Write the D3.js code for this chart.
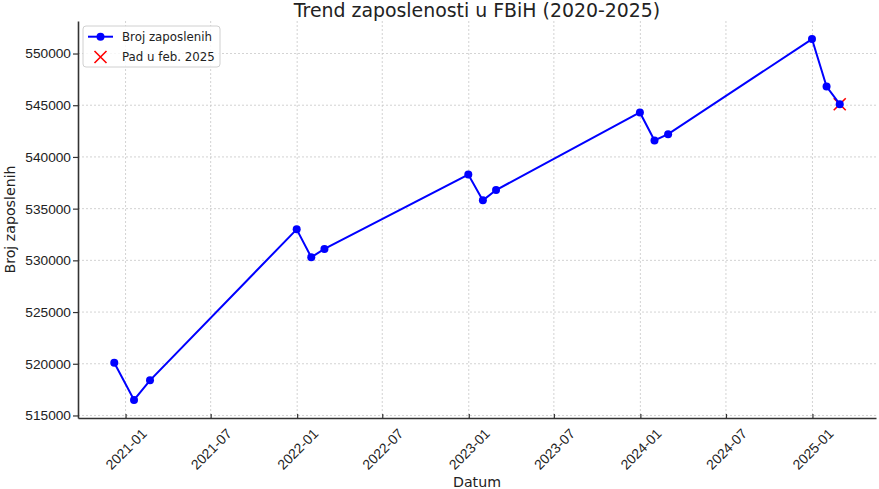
<!DOCTYPE html>
<html>
<head>
<meta charset="utf-8">
<script src="https://cdn.jsdelivr.net/npm/d3@7"></script>
<style>
  html, body { margin: 0; padding: 0; background: #fff; }
  svg { display: block; font-family: "DejaVu Sans", sans-serif; }
</style>
</head>
<body>
<svg id="chart" width="879" height="489"></svg>
<script>
// ---- data ----
const dates = ["2020-12-08","2021-01-19","2021-02-22","2021-12-31","2022-01-31","2022-02-28",
               "2022-12-31","2023-01-31","2023-02-28","2023-12-31","2024-01-31","2024-02-29",
               "2024-12-31","2025-01-31","2025-02-28"];
const employed = [520100, 516500, 518400, 533000, 530300, 531100, 538300, 535800, 536800,
                  544300, 541600, 542200, 551400, 546800, 545100];
const dropDate = ["2025-02-28"];
const dropValue = [545100];
const yTicks = [515000, 520000, 525000, 530000, 535000, 540000, 545000, 550000];
const titleText = "Trend zaposlenosti u FBiH (2020-2025)";
const xLabel = "Datum";
const yLabel = "Broj zaposlenih";
const legendLabels = ["Broj zaposlenih", "Pad u feb. 2025"];

// ---- layout ----
const W = 879, H = 489;
const L = 78, R = 876, T = 21, B = 418;
const parse = d3.timeParse("%Y-%m-%d");
const data = dates.map((d, i) => ({ date: parse(d), v: employed[i] }));
const drop = dropDate.map((d, i) => ({ date: parse(d), v: dropValue[i] }));

const svg = d3.select("#chart");

const xExt = d3.extent(data, d => d.date);
const xSpan = xExt[1] - xExt[0];
const x = d3.scaleTime()
  .domain([new Date(+xExt[0] - 0.05 * xSpan), new Date(+xExt[1] + 0.05 * xSpan)])
  .range([L, R]);
const yExt = d3.extent(data, d => d.v);
const ySpan = yExt[1] - yExt[0];
const y = d3.scaleLinear()
  .domain([yExt[0] - 0.05 * ySpan, yExt[1] + 0.05 * ySpan])
  .range([B, T]);

const xTicks = x.ticks(d3.timeMonth.every(6));
const fmt = d3.timeFormat("%Y-%m");

// grid
const grid = svg.append("g");
grid.selectAll(".gx").data(xTicks).enter().append("line")
  .attr("x1", d => x(d)).attr("x2", d => x(d)).attr("y1", T).attr("y2", B)
  .attr("stroke", "#c8c8c8").attr("stroke-width", 0.8).attr("stroke-dasharray", "2,2");
grid.selectAll(".gy").data(yTicks).enter().append("line")
  .attr("x1", L).attr("x2", R).attr("y1", d => y(d)).attr("y2", d => y(d))
  .attr("stroke", "#c8c8c8").attr("stroke-width", 0.8).attr("stroke-dasharray", "2,2");

// axes
const xAxis = d3.axisBottom(x).tickValues(xTicks).tickFormat(fmt).tickSizeInner(-4).tickSizeOuter(0);
const gx = svg.append("g").attr("transform", `translate(0,${B})`).call(xAxis);
gx.select(".domain").attr("stroke", "#333").attr("stroke-width", 1.6);
gx.selectAll(".tick line").attr("stroke", "#333").attr("stroke-width", 1.2);
gx.selectAll(".tick text")
  .attr("font-size", "13.9px").attr("fill", "#222")
  .attr("text-anchor", "middle").attr("dy", null).attr("y", null)
  .attr("dominant-baseline", "central")
  .attr("transform", "translate(0,31) rotate(-45)");

const yAxis = d3.axisLeft(y).tickValues(yTicks).tickFormat(d3.format("d")).tickSizeInner(5).tickSizeOuter(0).tickPadding(2);
const gy = svg.append("g").attr("transform", `translate(${L},0)`).call(yAxis);
gy.select(".domain").attr("stroke", "#333").attr("stroke-width", 1.6);
gy.selectAll(".tick line").attr("stroke", "#333").attr("stroke-width", 1.2);
gy.selectAll(".tick text").attr("font-size", "13.7px").attr("fill", "#222");

// drop marker (red x)
const xs = 6;
svg.append("g").selectAll("path").data(drop).enter().append("path")
  .attr("d", d => {
    const cx = x(d.date), cy = y(d.v);
    return `M${cx - xs},${cy - xs}L${cx + xs},${cy + xs}M${cx - xs},${cy + xs}L${cx + xs},${cy - xs}`;
  })
  .attr("stroke", "#ff0000").attr("stroke-width", 1.6).attr("fill", "none");

// line
svg.append("path").datum(data)
  .attr("d", d3.line().x(d => x(d.date)).y(d => y(d.v)))
  .attr("fill", "none").attr("stroke", "#0000ff").attr("stroke-width", 2);
svg.append("g").selectAll("circle").data(data).enter().append("circle")
  .attr("cx", d => x(d.date)).attr("cy", d => y(d.v)).attr("r", 4)
  .attr("fill", "#0000ff");

// title & labels
svg.append("text").attr("x", (L + R) / 2).attr("y", 17).attr("text-anchor", "middle")
  .attr("font-size", "18.9px").attr("fill", "#222").text(titleText);
svg.append("text").attr("x", (L + R) / 2).attr("y", 487).attr("text-anchor", "middle")
  .attr("font-size", "14.2px").attr("fill", "#222").text(xLabel);
svg.append("text").attr("transform", `translate(15,${(T + B) / 2}) rotate(-90)`)
  .attr("text-anchor", "middle").attr("font-size", "14.2px").attr("fill", "#222").text(yLabel);

// legend
const lg = svg.append("g");
lg.append("rect").attr("x", 83).attr("y", 26).attr("width", 137).attr("height", 41)
  .attr("rx", 3).attr("fill", "#fff").attr("fill-opacity", 0.8)
  .attr("stroke", "#d0d0d0").attr("stroke-width", 1);
lg.append("line").attr("x1", 88).attr("x2", 113).attr("y1", 36.7).attr("y2", 36.7)
  .attr("stroke", "#0000ff").attr("stroke-width", 2);
lg.append("circle").attr("cx", 100.5).attr("cy", 36.7).attr("r", 4).attr("fill", "#0000ff");
lg.append("path")
  .attr("d", `M${100.5 - xs},${57 - xs}L${100.5 + xs},${57 + xs}M${100.5 - xs},${57 + xs}L${100.5 + xs},${57 - xs}`)
  .attr("stroke", "#ff0000").attr("stroke-width", 1.6);
lg.selectAll("text.lt").data(legendLabels).enter().append("text")
  .attr("x", 122).attr("y", (d, i) => 36.7 + i * 20.3)
  .attr("dominant-baseline", "central")
  .attr("font-size", "11.8px").attr("fill", "#222").text(d => d);
</script>
</body>
</html>
